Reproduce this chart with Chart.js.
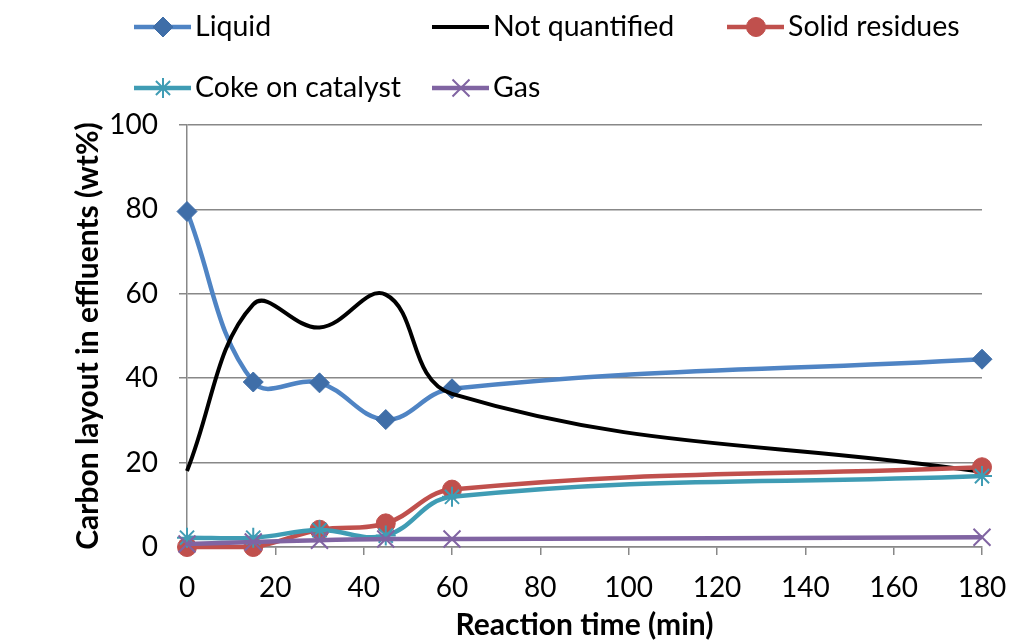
<!DOCTYPE html>
<html>
<head>
<meta charset="utf-8">
<script src="https://cdn.jsdelivr.net/npm/chart.js@4/dist/chart.umd.min.js"></script>
<style>
  html, body { margin: 0; padding: 0; background: #fff; }
  #wrap { width: 1012px; height: 643px; }
</style>
</head>
<body>
<div id="wrap"><canvas id="c" width="1012" height="643"></canvas></div>
<script>
// ---- data ----
const times = [0, 15, 30, 45, 60, 180];
const liquid = [79.5, 39.1, 38.9, 30.2, 37.5, 44.5];
const notQuantified = [18, 57.5, 52, 59.8, 36.3, 17.8];
const solidResidues = [0, 0, 4.1, 5.6, 13.6, 18.9];
const cokeOnCatalyst = [2.2, 2.2, 4.0, 2.7, 11.9, 16.8];
const gas = [0.7, 1.2, 1.6, 1.9, 1.9, 2.3];
const xTicks = [0, 20, 40, 60, 80, 100, 120, 140, 160, 180];
const yTicks = [0, 20, 40, 60, 80, 100];
const seriesNames = ['Liquid', 'Not quantified', 'Solid residues', 'Coke on catalyst', 'Gas'];
const xTitle = 'Reaction time (min)';
const yTitle = 'Carbon layout in effluents (wt%)';

const pts = arr => times.map((t, i) => ({ x: t, y: arr[i] }));
const FONT = 'Lato';

function series(label, values, color, markerColor, style, radius, order, width) {
  return {
    label: label,
    data: pts(values),
    borderColor: color,
    backgroundColor: color,
    borderWidth: width,
    pointStyle: style,
    pointRadius: radius,
    pointHoverRadius: radius,
    pointBackgroundColor: markerColor,
    pointBorderColor: markerColor,
    pointBorderWidth: style === 'star' || style === 'crossRot' ? 2 : 1,
    tension: 0.4,
    fill: false,
    clip: false,
    order: order
  };
}

const datasets = [
  series(seriesNames[0], liquid, '#4F84C4', '#3F6EA8', 'rectRot', 10, 4, 4.5),
  series(seriesNames[1], notQuantified, '#000000', '#000000', false, 0, 3, 4),
  series(seriesNames[2], solidResidues, '#C0504D', '#C0504D', 'circle', 9.5, 2, 4.5),
  series(seriesNames[3], cokeOnCatalyst, '#3F9CB4', '#3F9CB4', 'star', 10, 1, 4.5),
  series(seriesNames[4], gas, '#8064A2', '#8064A2', 'crossRot', 12, 0, 4.5)
];

const gridLegend = {
  id: 'gridLegend',
  afterDraw(chart) {
    const ctx = chart.ctx;
    const cols = [134, 432, 727];
    const rows = [27, 88];
    chart.data.datasets.forEach((ds, i) => {
      const x0 = cols[i % 3];
      const y = rows[Math.floor(i / 3)];
      ctx.save();
      ctx.strokeStyle = ds.borderColor;
      ctx.lineWidth = ds.borderWidth;
      ctx.beginPath();
      ctx.moveTo(x0, y);
      ctx.lineTo(x0 + 57, y);
      ctx.stroke();
      if (ds.pointStyle) {
        ctx.fillStyle = ds.pointBackgroundColor;
        ctx.strokeStyle = ds.pointBorderColor;
        ctx.lineWidth = ds.pointBorderWidth;
        Chart.helpers.drawPoint(ctx, {
          pointStyle: ds.pointStyle, radius: ds.pointRadius, rotation: 0, borderWidth: ds.pointBorderWidth
        }, x0 + 29, y);
      }
      ctx.fillStyle = '#000';
      ctx.font = '28.5px ' + FONT;
      ctx.textAlign = 'left';
      ctx.textBaseline = 'middle';
      ctx.fillText(ds.label, x0 + 61, y);
      ctx.restore();
    });
  }
};

new Chart(document.getElementById('c'), {
  type: 'line',
  data: { datasets: datasets },
  plugins: [gridLegend],
  options: {
    responsive: false,
    devicePixelRatio: 1,
    animation: false,
    layout: { padding: { top: 125, right: 0, left: 0, bottom: 0 } },
    plugins: { legend: { display: false }, tooltip: { enabled: false } },
    scales: {
      x: {
        type: 'linear',
        min: 0, max: 180,
        afterBuildTicks: s => { s.ticks = xTicks.map(v => ({ value: v })); },
        afterFit: s => { s.height = 96; s.paddingRight = 30; s.paddingLeft = 0; },
        grid: { drawOnChartArea: false, drawTicks: true, tickLength: 8, color: '#888', lineWidth: 1.5 },
        border: { display: true, color: '#888', width: 1.5 },
        ticks: { color: '#000', padding: 16, font: { family: FONT, size: 28 } },
        title: { display: true, text: xTitle, color: '#000', padding: { top: 0, bottom: 0 },
                 font: { family: FONT, size: 30, weight: 'bold' } }
      },
      y: {
        type: 'linear',
        min: 0, max: 100,
        afterBuildTicks: s => { s.ticks = yTicks.map(v => ({ value: v })); },
        afterFit: s => { s.width = 187; },
        grid: { drawOnChartArea: true, drawTicks: true, tickLength: 8, color: '#888', lineWidth: 1.5 },
        border: { display: true, color: '#888', width: 1.5 },
        ticks: { color: '#000', padding: 21, font: { family: FONT, size: 28 } },
        title: { display: true, text: yTitle, color: '#000', padding: { top: 70, bottom: 0 },
                 font: { family: FONT, size: 30, weight: 'bold' } }
      }
    }
  }
});
</script>
</body>
</html>
